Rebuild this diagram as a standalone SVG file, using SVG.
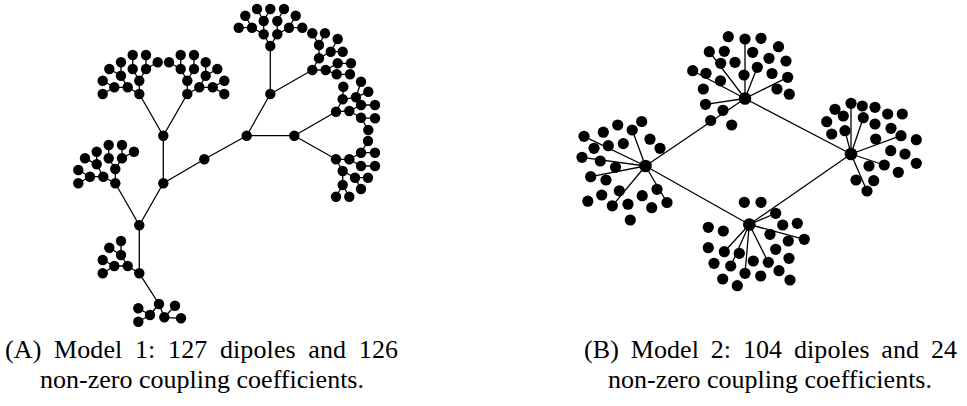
<svg xmlns="http://www.w3.org/2000/svg" width="967" height="406" viewBox="0 0 967 406">
<style>
  .edges path { fill: none; stroke: #000; stroke-width: 1.3; stroke-linecap: round; stroke-linejoin: round; }
  circle { fill: #000; }
  .cap { font-family: "Liberation Serif", "DejaVu Serif", serif; font-size: 26px; fill: #000; text-anchor: middle; }
</style>
<rect width="967" height="406" fill="#fff"/>

<!-- Model 1: binary tree -->
<g id="model1-edges" class="edges">
  <path d="M204.3,159.3 L163.3,183.3 M204.3,159.3 L246.7,135.7 M163.3,183.3 L163.3,135.7 M163.3,183.3 L139.3,225.3 M246.7,135.7 L270.3,94 M246.7,135.7 L294.3,135.7 M163.3,135.7 L139.3,94 M163.3,135.7 L187.3,94 M139.3,225.3 L115.3,183.3 M139.3,225.3 L139.3,273.3 M270.3,94 L270.3,46 M270.3,94 L312.3,70 M294.3,135.7 L336,111.7 M294.3,135.7 L336,159.3"/>
  <path d="M139.3,94 L139.3,80.7 M139.3,94 L127.7,87.3 L114.3,87.3 L102.7,94 M114.3,87.3 L102.7,80.7 M127.7,87.3 L121,75.7 L109.3,69 M121,75.7 L121,62.3 M139.3,80.7 L132.7,69 L132.7,55 M139.3,80.7 L146,69 L146,55 M146,69 L157.7,62.3"/>
  <path d="M187.3,94 L187.3,80.7 M187.3,94 L199.3,87.3 L212.7,87.3 L224.3,94 M212.7,87.3 L224.3,80.7 M199.3,87.3 L205.7,75.7 L217.3,69 M205.7,75.7 L205.7,62.3 M187.3,80.7 L194,69 L194,55 M187.3,80.7 L180.7,69 L180.7,55 M180.7,69 L169,62.3"/>
  <path d="M115.3,183.3 L115.3,169 M115.3,183.3 L103.3,176.7 L90,176.7 L78.3,183.3 M90,176.7 L78.3,170 M103.3,176.7 L96.7,164.3 L85,158.3 M96.7,164.3 L96.7,151.7 M115.3,169 L108.7,158.3 L108.7,145 M115.3,169 L122,158.3 L122,145 M122,158.3 L134,151.7"/>
  <path d="M139.3,273.3 L127.7,266 L114.3,266 L102.7,273.3 M114.3,266 L102.7,260 M127.7,266 L121,255 L109.3,247.7 M121,255 L121,241 M139.3,273.3 L159,304 L150,315 L138.3,308.3 M150,315 L138.3,321.7 M159,304 L164.3,317.3 L175,305.7 M164.3,317.3 L181,318.3"/>
  <path d="M270.3,46 L263.7,34.3 L252,27.7 L238.7,27.7 M252,27.7 L245.3,15.7 M263.7,34.3 L263.7,21 L257,9 M263.7,21 L270.3,9 M270.3,46 L277.3,34.3 L277.3,21 L284,9 M277.3,34.3 L289,27.7 L295.7,15.7 M289,27.7 L302.3,27.7"/>
  <path d="M312.3,70 L319,58.3 L319,45 L312.3,33.3 M319,45 L325,33.3 M319,58.3 L330.7,51.7 L337.7,39 M330.7,51.7 L342.7,51.7 M312.3,70 L325.7,70 L337.7,63.3 L351,63.3 M325.7,70 L336.7,74.3 L350,74.3"/>
  <path d="M336,111.7 L349.3,111 L361,105 L375,105 M349.3,111 L361,117.8 L375,118.3 M361,117.8 L368.3,130 M336,111.7 L342.7,99.3 L356,97.3 L368.3,91.7 M356,97.3 L361,81.7 M342.7,99.3 L343.3,86.8"/>
  <path d="M336,159.3 L349.3,159.3 L361,152.7 L375,152.7 M361,152.7 L368,141 M349.3,159.3 L361,166 L375,166 M336,159.3 L342.7,171 L355,177.7 L368,177.7 M355,177.7 L361,189 M342.7,171 L342.7,185 L336,196.7 M342.7,185 L349.3,196.7"/>
</g>

<g id="model1-nodes">
  <g id="m1-c0"><circle cx="204.3" cy="159.3" r="5.2"/></g>
  <g id="m1-c1"><circle cx="163.3" cy="183.3" r="5.2"/></g>
  <g id="m1-c2"><circle cx="246.7" cy="135.7" r="5.2"/></g>
  <g id="m1-c3"><circle cx="163.3" cy="135.7" r="5.2"/></g>
  <g id="m1-c4"><circle cx="139.3" cy="225.3" r="5.2"/></g>
  <g id="m1-c5"><circle cx="270.3" cy="94" r="5.2"/></g>
  <g id="m1-c6"><circle cx="294.3" cy="135.7" r="5.2"/></g>

  <g id="m1-l0"><circle cx="139.3" cy="94" r="5.2"/></g>
  <g id="m1-l1"><circle cx="139.3" cy="80.7" r="5.2"/></g>
  <g id="m1-l2"><circle cx="127.7" cy="87.3" r="5.2"/></g>
  <g id="m1-l3"><circle cx="114.3" cy="87.3" r="5.2"/></g>
  <g id="m1-l4"><circle cx="121" cy="75.7" r="5.2"/></g>
  <g id="m1-l5"><circle cx="102.7" cy="94" r="5.2"/></g>
  <g id="m1-l6"><circle cx="102.7" cy="80.7" r="5.2"/></g>
  <g id="m1-l7"><circle cx="109.3" cy="69" r="5.2"/></g>
  <g id="m1-l8"><circle cx="121" cy="62.3" r="5.2"/></g>
  <g id="m1-l9"><circle cx="132.7" cy="69" r="5.2"/></g>
  <g id="m1-l10"><circle cx="146" cy="69" r="5.2"/></g>
  <g id="m1-l11"><circle cx="132.7" cy="55" r="5.2"/></g>
  <g id="m1-l12"><circle cx="146" cy="55" r="5.2"/></g>
  <g id="m1-l13"><circle cx="157.7" cy="62.3" r="5.2"/></g>

  <g id="m1-r0"><circle cx="187.3" cy="94" r="5.2"/></g>
  <g id="m1-r1"><circle cx="187.3" cy="80.7" r="5.2"/></g>
  <g id="m1-r2"><circle cx="199.3" cy="87.3" r="5.2"/></g>
  <g id="m1-r3"><circle cx="212.7" cy="87.3" r="5.2"/></g>
  <g id="m1-r4"><circle cx="205.7" cy="75.7" r="5.2"/></g>
  <g id="m1-r5"><circle cx="224.3" cy="94" r="5.2"/></g>
  <g id="m1-r6"><circle cx="224.3" cy="80.7" r="5.2"/></g>
  <g id="m1-r7"><circle cx="217.3" cy="69" r="5.2"/></g>
  <g id="m1-r8"><circle cx="205.7" cy="62.3" r="5.2"/></g>
  <g id="m1-r9"><circle cx="194" cy="69" r="5.2"/></g>
  <g id="m1-r10"><circle cx="180.7" cy="69" r="5.2"/></g>
  <g id="m1-r11"><circle cx="194" cy="55" r="5.2"/></g>
  <g id="m1-r12"><circle cx="180.7" cy="55" r="5.2"/></g>
  <g id="m1-r13"><circle cx="169" cy="62.3" r="5.2"/></g>

  <g id="m1-k0"><circle cx="115.3" cy="183.3" r="5.2"/></g>
  <g id="m1-k1"><circle cx="115.3" cy="169" r="5.2"/></g>
  <g id="m1-k2"><circle cx="103.3" cy="176.7" r="5.2"/></g>
  <g id="m1-k3"><circle cx="90" cy="176.7" r="5.2"/></g>
  <g id="m1-k4"><circle cx="96.7" cy="164.3" r="5.2"/></g>
  <g id="m1-k5"><circle cx="78.3" cy="183.3" r="5.2"/></g>
  <g id="m1-k6"><circle cx="78.3" cy="170" r="5.2"/></g>
  <g id="m1-k7"><circle cx="85" cy="158.3" r="5.2"/></g>
  <g id="m1-k8"><circle cx="96.7" cy="151.7" r="5.2"/></g>
  <g id="m1-k9"><circle cx="108.7" cy="158.3" r="5.2"/></g>
  <g id="m1-k10"><circle cx="122" cy="158.3" r="5.2"/></g>
  <g id="m1-k11"><circle cx="108.7" cy="145" r="5.2"/></g>
  <g id="m1-k12"><circle cx="122" cy="145" r="5.2"/></g>
  <g id="m1-k13"><circle cx="134" cy="151.7" r="5.2"/></g>

  <g id="m1-m0"><circle cx="139.3" cy="273.3" r="5.2"/></g>
  <g id="m1-m1"><circle cx="127.7" cy="266" r="5.2"/></g>
  <g id="m1-m2"><circle cx="114.3" cy="266" r="5.2"/></g>
  <g id="m1-m3"><circle cx="121" cy="255" r="5.2"/></g>
  <g id="m1-m4"><circle cx="102.7" cy="273.3" r="5.2"/></g>
  <g id="m1-m5"><circle cx="102.7" cy="260" r="5.2"/></g>
  <g id="m1-m6"><circle cx="109.3" cy="247.7" r="5.2"/></g>
  <g id="m1-m7"><circle cx="121" cy="241" r="5.2"/></g>
  <g id="m1-m8"><circle cx="159" cy="304" r="5.2"/></g>
  <g id="m1-m9"><circle cx="150" cy="315" r="5.2"/></g>
  <g id="m1-m10"><circle cx="164.3" cy="317.3" r="5.2"/></g>
  <g id="m1-m11"><circle cx="138.3" cy="308.3" r="5.2"/></g>
  <g id="m1-m12"><circle cx="138.3" cy="321.7" r="5.2"/></g>
  <g id="m1-m13"><circle cx="175" cy="305.7" r="5.2"/></g>
  <g id="m1-m14"><circle cx="181" cy="318.3" r="5.2"/></g>

  <g id="m1-t0"><circle cx="270.3" cy="46" r="5.2"/></g>
  <g id="m1-t1"><circle cx="263.7" cy="34.3" r="5.2"/></g>
  <g id="m1-t2"><circle cx="277.3" cy="34.3" r="5.2"/></g>
  <g id="m1-t3"><circle cx="252" cy="27.7" r="5.2"/></g>
  <g id="m1-t4"><circle cx="263.7" cy="21" r="5.2"/></g>
  <g id="m1-t5"><circle cx="238.7" cy="27.7" r="5.2"/></g>
  <g id="m1-t6"><circle cx="245.3" cy="15.7" r="5.2"/></g>
  <g id="m1-t7"><circle cx="257" cy="9" r="5.2"/></g>
  <g id="m1-t8"><circle cx="270.3" cy="9" r="5.2"/></g>
  <g id="m1-t9"><circle cx="277.3" cy="21" r="5.2"/></g>
  <g id="m1-t10"><circle cx="289" cy="27.7" r="5.2"/></g>
  <g id="m1-t11"><circle cx="284" cy="9" r="5.2"/></g>
  <g id="m1-t12"><circle cx="295.7" cy="15.7" r="5.2"/></g>
  <g id="m1-t13"><circle cx="302.3" cy="27.7" r="5.2"/></g>

  <g id="m1-u0"><circle cx="312.3" cy="70" r="5.2"/></g>
  <g id="m1-u1"><circle cx="325.7" cy="70" r="5.2"/></g>
  <g id="m1-u2"><circle cx="319" cy="58.3" r="5.2"/></g>
  <g id="m1-u3"><circle cx="319" cy="45" r="5.2"/></g>
  <g id="m1-u4"><circle cx="330.7" cy="51.7" r="5.2"/></g>
  <g id="m1-u5"><circle cx="312.3" cy="33.3" r="5.2"/></g>
  <g id="m1-u6"><circle cx="325" cy="33.3" r="5.2"/></g>
  <g id="m1-u7"><circle cx="337.7" cy="39" r="5.2"/></g>
  <g id="m1-u8"><circle cx="342.7" cy="51.7" r="5.2"/></g>
  <g id="m1-u9"><circle cx="337.7" cy="63.3" r="5.2"/></g>
  <g id="m1-u10"><circle cx="336.7" cy="74.3" r="5.2"/></g>
  <g id="m1-u11"><circle cx="351" cy="63.3" r="5.2"/></g>
  <g id="m1-u12"><circle cx="350" cy="74.3" r="5.2"/></g>

  <g id="m1-v0"><circle cx="336" cy="111.7" r="5.2"/></g>
  <g id="m1-v1"><circle cx="349.3" cy="111" r="5.2"/></g>
  <g id="m1-v2"><circle cx="342.7" cy="99.3" r="5.2"/></g>
  <g id="m1-v3"><circle cx="361" cy="105" r="5.2"/></g>
  <g id="m1-v4"><circle cx="361" cy="117.8" r="5.2"/></g>
  <g id="m1-v5"><circle cx="375" cy="105" r="5.2"/></g>
  <g id="m1-v6"><circle cx="375" cy="118.3" r="5.2"/></g>
  <g id="m1-v7"><circle cx="368.3" cy="130" r="5.2"/></g>
  <g id="m1-v8"><circle cx="356" cy="97.3" r="5.2"/></g>
  <g id="m1-v9"><circle cx="343.3" cy="86.8" r="5.2"/></g>
  <g id="m1-v10"><circle cx="368.3" cy="91.7" r="5.2"/></g>
  <g id="m1-v11"><circle cx="361" cy="81.7" r="5.2"/></g>

  <g id="m1-w0"><circle cx="336" cy="159.3" r="5.2"/></g>
  <g id="m1-w1"><circle cx="349.3" cy="159.3" r="5.2"/></g>
  <g id="m1-w2"><circle cx="342.7" cy="171" r="5.2"/></g>
  <g id="m1-w3"><circle cx="361" cy="152.7" r="5.2"/></g>
  <g id="m1-w4"><circle cx="361" cy="166" r="5.2"/></g>
  <g id="m1-w5"><circle cx="375" cy="152.7" r="5.2"/></g>
  <g id="m1-w6"><circle cx="368" cy="141" r="5.2"/></g>
  <g id="m1-w7"><circle cx="375" cy="166" r="5.2"/></g>
  <g id="m1-w8"><circle cx="355" cy="177.7" r="5.2"/></g>
  <g id="m1-w9"><circle cx="342.7" cy="185" r="5.2"/></g>
  <g id="m1-w10"><circle cx="368" cy="177.7" r="5.2"/></g>
  <g id="m1-w11"><circle cx="361" cy="189" r="5.2"/></g>
  <g id="m1-w12"><circle cx="336" cy="196.7" r="5.2"/></g>
  <g id="m1-w13"><circle cx="349.3" cy="196.7" r="5.2"/></g>
</g>

<!-- Model 2: four hubs with star clusters -->
<g id="model2-edges" class="edges">
  <path d="M645.5,166 L745,98.5 L851,154 L749.3,224.5 Z"/>
  <path d="M745,98.5 L745,39 M745,98.5 L709.3,51.7 M745,98.5 L692.7,70.7 M745,98.5 L757.3,67.3 M745,98.5 L787.7,77.3 M745,98.5 L705.5,104.3"/>
  <path d="M851,154 L851,103.3 M851,154 L845,130.7 M851,154 L863.3,117.7 M851,154 L901,135.7 M851,154 L884.3,165 M851,154 L867,191"/>
  <path d="M645.5,166 L632.2,130 M645.5,166 L584,136.3 M645.5,166 L582,157.3 M645.5,166 L590.7,176.7 M645.5,166 L612.3,205.8 M645.5,166 L667,202.5"/>
  <path d="M749.3,224.5 L775.7,213.3 M749.3,224.5 L804.3,239.3 M749.3,224.5 L724.3,251.7 M749.3,224.5 L730.7,266 M749.3,224.5 L745,273.3 M749.3,224.5 L768.3,262.3"/>
</g>

<g id="model2-nodes">
  <g id="m2-hub-left"><circle cx="645.5" cy="166" r="6.3"/></g>
  <g id="m2-hub-top"><circle cx="745" cy="98.5" r="6.3"/></g>
  <g id="m2-hub-right"><circle cx="851" cy="154" r="6.3"/></g>
  <g id="m2-hub-bottom"><circle cx="749.3" cy="224.5" r="6.3"/></g>

  <g id="m2-t1"><circle cx="728.3" cy="36.7" r="5.6"/></g>
  <g id="m2-t2"><circle cx="745" cy="39" r="5.6"/></g>
  <g id="m2-t3"><circle cx="761" cy="38.3" r="5.6"/></g>
  <g id="m2-t4"><circle cx="709.3" cy="51.7" r="5.6"/></g>
  <g id="m2-t5"><circle cx="724.3" cy="51.3" r="5.6"/></g>
  <g id="m2-t6"><circle cx="752.7" cy="52.3" r="5.6"/></g>
  <g id="m2-t7"><circle cx="778.5" cy="46.7" r="5.6"/></g>
  <g id="m2-t8"><circle cx="720.7" cy="63.3" r="5.6"/></g>
  <g id="m2-t9"><circle cx="735" cy="62.3" r="5.6"/></g>
  <g id="m2-t10"><circle cx="769" cy="58.3" r="5.6"/></g>
  <g id="m2-t11"><circle cx="786" cy="61" r="5.6"/></g>
  <g id="m2-t12"><circle cx="692.7" cy="70.7" r="5.6"/></g>
  <g id="m2-t13"><circle cx="706" cy="73.3" r="5.6"/></g>
  <g id="m2-t14"><circle cx="757.3" cy="67.3" r="5.6"/></g>
  <g id="m2-t15"><circle cx="744" cy="75" r="5.6"/></g>
  <g id="m2-t16"><circle cx="772" cy="73.5" r="5.6"/></g>
  <g id="m2-t17"><circle cx="787.7" cy="77.3" r="5.6"/></g>
  <g id="m2-t18"><circle cx="720.5" cy="80.8" r="5.6"/></g>
  <g id="m2-t19"><circle cx="703.3" cy="89" r="5.6"/></g>
  <g id="m2-t20"><circle cx="777" cy="89" r="5.6"/></g>
  <g id="m2-t21"><circle cx="789.3" cy="94.2" r="5.6"/></g>
  <g id="m2-t22"><circle cx="705.5" cy="104.3" r="5.6"/></g>
  <g id="m2-t23"><circle cx="723" cy="110.3" r="5.6"/></g>
  <g id="m2-t24"><circle cx="710.7" cy="120.5" r="5.6"/></g>
  <g id="m2-t25"><circle cx="731.7" cy="125" r="5.6"/></g>

  <g id="m2-r1"><circle cx="851" cy="103.3" r="5.6"/></g>
  <g id="m2-r2"><circle cx="835" cy="109.3" r="5.6"/></g>
  <g id="m2-r3"><circle cx="862.3" cy="106" r="5.6"/></g>
  <g id="m2-r4"><circle cx="875" cy="107.3" r="5.6"/></g>
  <g id="m2-r5"><circle cx="843.3" cy="116" r="5.6"/></g>
  <g id="m2-r6"><circle cx="863.3" cy="117.7" r="5.6"/></g>
  <g id="m2-r7"><circle cx="887.7" cy="114" r="5.6"/></g>
  <g id="m2-r8"><circle cx="902.3" cy="114" r="5.6"/></g>
  <g id="m2-r9"><circle cx="826.7" cy="121.7" r="5.6"/></g>
  <g id="m2-r10"><circle cx="875" cy="124" r="5.6"/></g>
  <g id="m2-r11"><circle cx="845" cy="130.7" r="5.6"/></g>
  <g id="m2-r12"><circle cx="891" cy="128.3" r="5.6"/></g>
  <g id="m2-r13"><circle cx="831.7" cy="134" r="5.6"/></g>
  <g id="m2-r14"><circle cx="901" cy="135.7" r="5.6"/></g>
  <g id="m2-r15"><circle cx="875.7" cy="139" r="5.6"/></g>
  <g id="m2-r16"><circle cx="916.3" cy="139.7" r="5.6"/></g>
  <g id="m2-r17"><circle cx="890.7" cy="150.7" r="5.6"/></g>
  <g id="m2-r18"><circle cx="905" cy="154" r="5.6"/></g>
  <g id="m2-r19"><circle cx="869" cy="166" r="5.6"/></g>
  <g id="m2-r20"><circle cx="884.3" cy="165" r="5.6"/></g>
  <g id="m2-r21"><circle cx="916.3" cy="163.3" r="5.6"/></g>
  <g id="m2-r22"><circle cx="898.3" cy="172.3" r="5.6"/></g>
  <g id="m2-r23"><circle cx="856" cy="180" r="5.6"/></g>
  <g id="m2-r24"><circle cx="873.7" cy="180.7" r="5.6"/></g>
  <g id="m2-r25"><circle cx="867" cy="191" r="5.6"/></g>

  <g id="m2-l1"><circle cx="641.7" cy="121.5" r="5.6"/></g>
  <g id="m2-l2"><circle cx="617.7" cy="125" r="5.6"/></g>
  <g id="m2-l3"><circle cx="632.2" cy="130" r="5.6"/></g>
  <g id="m2-l4"><circle cx="603.3" cy="132.2" r="5.6"/></g>
  <g id="m2-l5"><circle cx="584" cy="136.3" r="5.6"/></g>
  <g id="m2-l6"><circle cx="650" cy="139.2" r="5.6"/></g>
  <g id="m2-l7"><circle cx="623.3" cy="143.6" r="5.6"/></g>
  <g id="m2-l8"><circle cx="608.3" cy="145.7" r="5.6"/></g>
  <g id="m2-l9"><circle cx="660" cy="148.3" r="5.6"/></g>
  <g id="m2-l10"><circle cx="594" cy="148.3" r="5.6"/></g>
  <g id="m2-l11"><circle cx="582" cy="157.3" r="5.6"/></g>
  <g id="m2-l12"><circle cx="600.3" cy="161" r="5.6"/></g>
  <g id="m2-l13"><circle cx="615.5" cy="167.3" r="5.6"/></g>
  <g id="m2-l14"><circle cx="590.7" cy="176.7" r="5.6"/></g>
  <g id="m2-l15"><circle cx="606" cy="180" r="5.6"/></g>
  <g id="m2-l16"><circle cx="657" cy="189.3" r="5.6"/></g>
  <g id="m2-l17"><circle cx="619.3" cy="190.8" r="5.6"/></g>
  <g id="m2-l18"><circle cx="601.7" cy="195" r="5.6"/></g>
  <g id="m2-l19"><circle cx="642.2" cy="195.7" r="5.6"/></g>
  <g id="m2-l20"><circle cx="667" cy="202.5" r="5.6"/></g>
  <g id="m2-l21"><circle cx="587.8" cy="201.2" r="5.6"/></g>
  <g id="m2-l22"><circle cx="628" cy="204.2" r="5.6"/></g>
  <g id="m2-l23"><circle cx="612.3" cy="205.8" r="5.6"/></g>
  <g id="m2-l24"><circle cx="651.7" cy="207.7" r="5.6"/></g>
  <g id="m2-l25"><circle cx="630.3" cy="220" r="5.6"/></g>

  <g id="m2-b1"><circle cx="744.3" cy="202.3" r="5.6"/></g>
  <g id="m2-b2"><circle cx="761" cy="202.3" r="5.6"/></g>
  <g id="m2-b3"><circle cx="775.7" cy="213.3" r="5.6"/></g>
  <g id="m2-b4"><circle cx="782.7" cy="225" r="5.6"/></g>
  <g id="m2-b5"><circle cx="797.3" cy="223.3" r="5.6"/></g>
  <g id="m2-b6"><circle cx="708.3" cy="227.3" r="5.6"/></g>
  <g id="m2-b7"><circle cx="723.3" cy="231" r="5.6"/></g>
  <g id="m2-b8"><circle cx="770" cy="234.3" r="5.6"/></g>
  <g id="m2-b9"><circle cx="804.3" cy="239.3" r="5.6"/></g>
  <g id="m2-b10"><circle cx="788.3" cy="241" r="5.6"/></g>
  <g id="m2-b11"><circle cx="708.3" cy="247.7" r="5.6"/></g>
  <g id="m2-b12"><circle cx="724.3" cy="251.7" r="5.6"/></g>
  <g id="m2-b13"><circle cx="739.3" cy="253.3" r="5.6"/></g>
  <g id="m2-b14"><circle cx="775.7" cy="249.3" r="5.6"/></g>
  <g id="m2-b15"><circle cx="789" cy="258.3" r="5.6"/></g>
  <g id="m2-b16"><circle cx="714" cy="263.3" r="5.6"/></g>
  <g id="m2-b17"><circle cx="730.7" cy="266" r="5.6"/></g>
  <g id="m2-b18"><circle cx="753.3" cy="261" r="5.6"/></g>
  <g id="m2-b19"><circle cx="768.3" cy="262.3" r="5.6"/></g>
  <g id="m2-b20"><circle cx="779" cy="270.7" r="5.6"/></g>
  <g id="m2-b21"><circle cx="745" cy="273.3" r="5.6"/></g>
  <g id="m2-b22"><circle cx="760.7" cy="276" r="5.6"/></g>
  <g id="m2-b23"><circle cx="722.7" cy="279" r="5.6"/></g>
  <g id="m2-b24"><circle cx="790" cy="280" r="5.6"/></g>
  <g id="m2-b25"><circle cx="737.3" cy="285.7" r="5.6"/></g>
</g>

<!-- Captions: first lines are justified (wide word gaps), second lines set naturally -->
<g id="captions">
  <text class="cap" x="201.5" y="358" word-spacing="6" textLength="393">(A) Model 1: 127 dipoles and 126</text>
  <text class="cap" x="202" y="388" textLength="324">non-zero coupling coefficients.</text>
  <text class="cap" x="770.5" y="358" word-spacing="5.2" textLength="373">(B) Model 2: 104 dipoles and 24</text>
  <text class="cap" x="770" y="388" textLength="324">non-zero coupling coefficients.</text>
</g>
</svg>
